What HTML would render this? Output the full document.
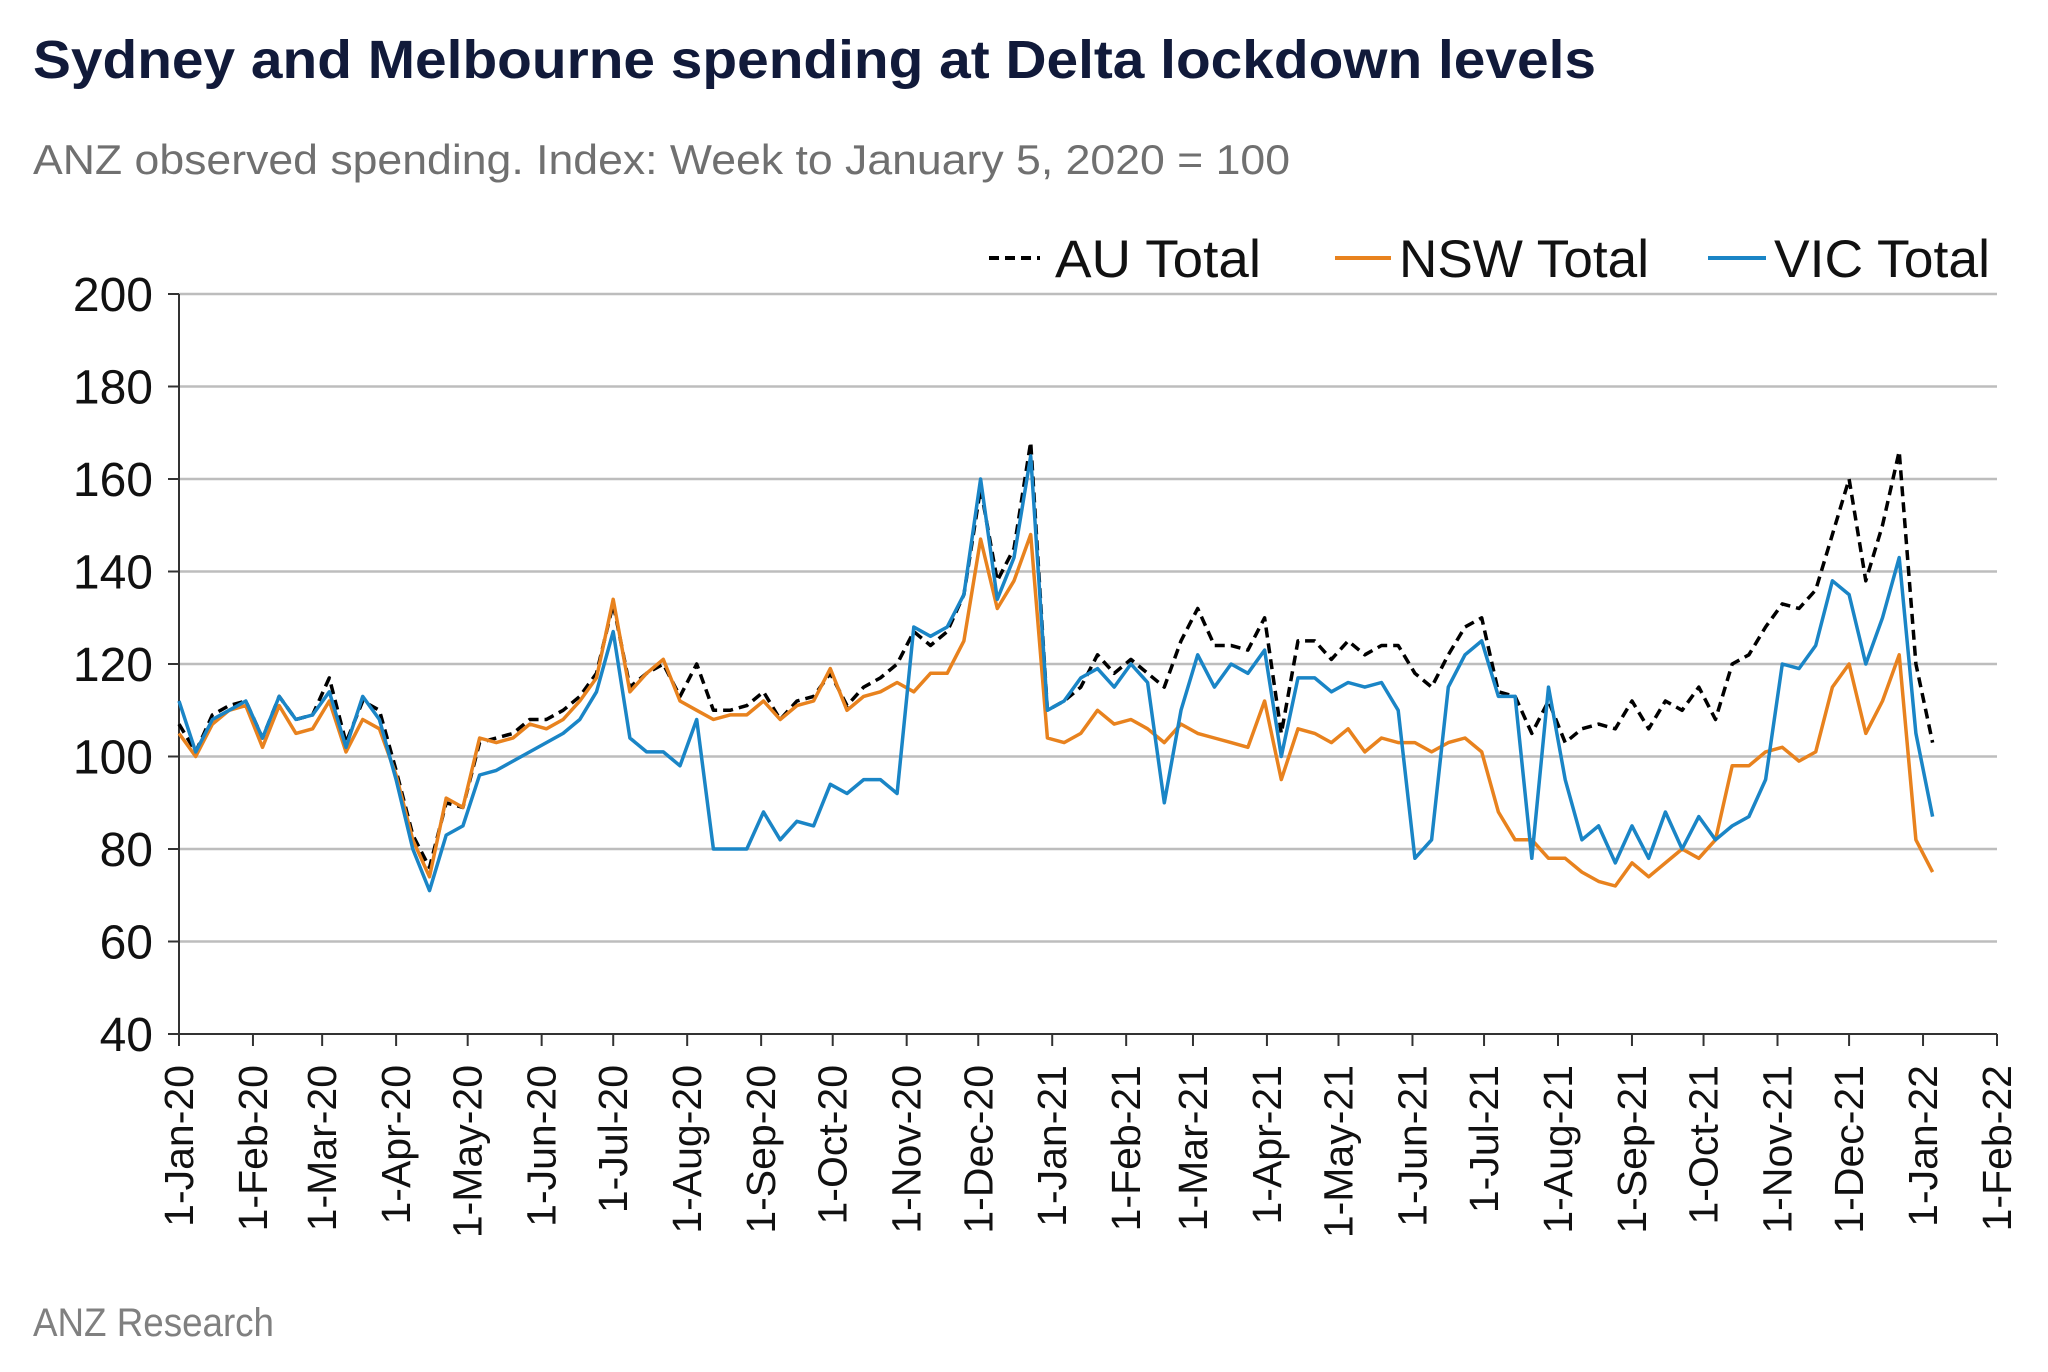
<!DOCTYPE html>
<html><head><meta charset="utf-8"><style>
body{margin:0;background:#fff;}
svg{display:block;font-family:"Liberation Sans",sans-serif;}
</style></head><body>
<svg id="chart" width="2048" height="1372" viewBox="0 0 2048 1372">
<text x="33" y="78" font-size="54" font-weight="bold" fill="#111a3a" textLength="1563" lengthAdjust="spacingAndGlyphs">Sydney and Melbourne spending at Delta lockdown levels</text>
<text x="33" y="174" font-size="42" fill="#707070" textLength="1257" lengthAdjust="spacingAndGlyphs">ANZ observed spending. Index: Week to January 5, 2020 = 100</text>
<text x="33" y="1336" font-size="40" fill="#808080" textLength="241" lengthAdjust="spacingAndGlyphs">ANZ Research</text>
<g>
<g><line x1="989" y1="258" x2="1040" y2="258" stroke="#000" stroke-width="4" stroke-dasharray="10,6"/><text x="1055" y="277" font-size="53" fill="#111" textLength="206" lengthAdjust="spacingAndGlyphs">AU Total</text></g>
<g><line x1="1335" y1="258" x2="1391" y2="258" stroke="#e8821e" stroke-width="4"/><text x="1399" y="277" font-size="53" fill="#111" textLength="250" lengthAdjust="spacingAndGlyphs">NSW Total</text></g>
<g><line x1="1708" y1="258" x2="1766" y2="258" stroke="#1a85c6" stroke-width="4"/><text x="1774" y="277" font-size="53" fill="#111" textLength="216" lengthAdjust="spacingAndGlyphs">VIC Total</text></g>
</g>
<g id="grid"></g><g id="axes"></g><g id="series"></g>
</svg>
<script>
const yTicks=[40,60,80,100,120,140,160,180,200];
const auValues=[107,101,109,111,112,104,113,108,109,117,103,112,110,97,83,76,90,89,103,104,105,108,108,110,113,118,133,115,118,120,113,120,110,110,111,114,108,112,113,118,111,115,117,120,127,124,127,135,158,138,145,168,110,112,115,122,118,121,118,115,125,132,124,124,123,130,105,125,125,121,125,122,124,124,118,115,122,128,130,114,113,105,112,103,106,107,106,112,106,112,110,115,108,120,122,128,133,132,136,148,160,138,150,166,120,103];
const nswValues=[105,100,107,110,111,102,111,105,106,112,101,108,106,96,82,74,91,89,104,103,104,107,106,108,112,117,134,114,118,121,112,110,108,109,109,112,108,111,112,119,110,113,114,116,114,118,118,125,147,132,138,148,104,103,105,110,107,108,106,103,107,105,104,103,102,112,95,106,105,103,106,101,104,103,103,101,103,104,101,88,82,82,78,78,75,73,72,77,74,77,80,78,82,98,98,101,102,99,101,115,120,105,112,122,82,75];
const vicValues=[112,101,108,110,112,104,113,108,109,114,102,113,108,95,80,71,83,85,96,97,99,101,103,105,108,114,127,104,101,101,98,108,80,80,80,88,82,86,85,94,92,95,95,92,128,126,128,135,160,134,143,165,110,112,117,119,115,120,116,90,110,122,115,120,118,123,100,117,117,114,116,115,116,110,78,82,115,122,125,113,113,78,115,95,82,85,77,85,78,88,80,87,82,85,87,95,120,119,124,138,135,120,130,143,105,87];
const X0=179,X1=1997,Y0=1034,Y1=294,DAYS=762;
const xs=d=>X0+d*(X1-X0)/DAYS, ys=v=>Y0-(v-40)*(Y0-Y1)/160;
const NS="http://www.w3.org/2000/svg";
const mk=(t,a,p)=>{const e=document.createElementNS(NS,t);for(const k in a)e.setAttribute(k,a[k]);p.appendChild(e);return e;};
const grid=document.getElementById('grid'),axes=document.getElementById('axes'),ser=document.getElementById('series');
yTicks.forEach(v=>{
  if(v>40){const g=mk('line',{x1:X0,x2:X1,y1:ys(v),y2:ys(v),stroke:'#bdbdbd','stroke-width':2.5},grid);
  
  }
  const tk=mk('line',{x1:X0-11,x2:X0,y1:ys(v),y2:ys(v),stroke:'#333','stroke-width':2},axes);
  
  
  const t=mk('text',{x:153,y:ys(v)+17,'font-size':48,'text-anchor':'end',fill:'#111'},axes);
  
  
  t.textContent=v;
});
const ax=mk('path',{d:`M${X0},${Y1}V${Y0}H${X1}`,stroke:'#333','stroke-width':2,fill:'none'},axes);


const mon=['Jan','Feb','Mar','Apr','May','Jun','Jul','Aug','Sep','Oct','Nov','Dec'];
const base=Date.UTC(2020,0,1);
for(let i=0;i<=25;i++){
  const y=2020+Math.floor(i/12),m=i%12;
  const d=(Date.UTC(y,m,1)-base)/86400000,x=xs(d);
  const tk=mk('line',{x1:x,x2:x,y1:Y0,y2:Y0+12,stroke:'#333','stroke-width':2},axes);
  
  
  const t=mk('text',{x:0,y:0,'font-size':41,'text-anchor':'end',fill:'#111',transform:`translate(${x+14},1065) rotate(-90)`},axes);
  
  
  t.textContent=`1-${mon[m]}-${String(y).slice(2)}`;
}
function draw(vals,color,dash,name){
  const d=vals.map((v,i)=>(i?'L':'M')+xs(i*7).toFixed(1)+','+ys(v).toFixed(1)).join('');
  const p=mk('path',{d:d,stroke:color,'stroke-width':3.5,fill:'none','stroke-linejoin':'round'},ser);
  if(dash)p.setAttribute('stroke-dasharray',dash);
  
  
}
draw(auValues,'#000','10,6','au-total-line');
draw(nswValues,'#e8821e',null,'nsw-total-line');
draw(vicValues,'#1a85c6',null,'vic-total-line');
</script>
</body></html>
